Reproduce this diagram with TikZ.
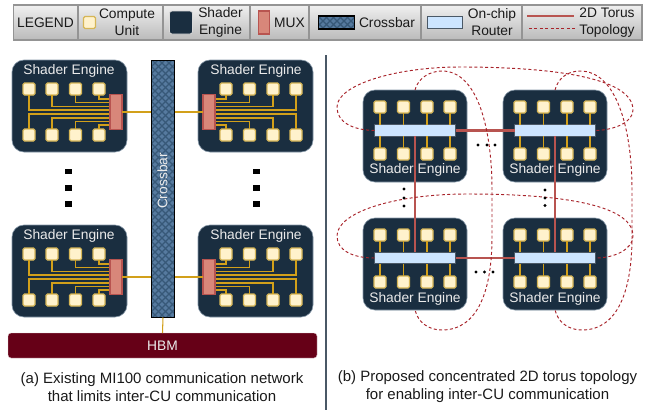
\documentclass[tikz,border=0pt]{standalone}
\usepackage{fontspec}
\setmainfont{Liberation Sans}
\definecolor{sebg}{HTML}{1A2E40}
\definecolor{sedge}{HTML}{8496A6}
\definecolor{cufill}{HTML}{FFF2CC}
\definecolor{cuedge}{HTML}{D6B656}
\definecolor{muxfill}{HTML}{D8877A}
\definecolor{muxedge}{HTML}{B85450}
\definecolor{wirec}{HTML}{D2A01A}
\definecolor{rtfill}{HTML}{CCE5FF}
\definecolor{rtedge}{HTML}{4A5866}
\definecolor{hbmc}{HTML}{660017}
\definecolor{torusc}{HTML}{B85450}
\definecolor{dashc}{HTML}{A8232A}
\definecolor{xbfill}{HTML}{567A9F}
\definecolor{xbhatch}{HTML}{375878}
\definecolor{txt}{HTML}{1A1A1A}
\newcommand{\fsz}{\fontsize{13.8}{15}\selectfont}
\newcommand{\capsz}{\fontsize{15}{18}\selectfont}
\tikzset{
  base/.style={inner sep=0pt,outer sep=0pt},
  engine/.style={base,draw=sedge,line width=0.6pt,fill=sebg,rounded corners=12pt,minimum width=#1,minimum height=92pt},
  cu/.style={base,draw=cuedge,line width=1.2pt,fill=cufill,rounded corners=1.5pt,minimum width=12pt,minimum height=12pt},
  muxbox/.style={base,draw=muxedge,line width=1.1pt,fill=muxfill,minimum width=12pt,minimum height=35pt},
  router/.style={base,draw=rtedge,line width=1pt,fill=rtfill,minimum width=81pt,minimum height=11.5pt},
  wire/.style={draw=wirec,line width=1.05pt},
  torus/.style={draw=torusc,line width=2.2pt},
  dashlink/.style={draw=dashc,line width=0.95pt,dash pattern=on 3pt off 2.4pt},
  setext/.style={base,text=white!92!black,font=\fsz},
  lab/.style={base,text=txt,font=\fsz,align=center},
  captext/.style={base,text=txt,font=\capsz,align=center},
  legbox/.style={base,draw=black!42,line width=1.1pt,top color=black!6,bottom color=black!27,minimum height=35pt},
  dotsq/.style={base,fill=black,minimum width=6.5pt,minimum height=5.5pt},
  dotrd/.style={base,circle,fill=black,minimum size=3.4pt},
  xbar/.style={base,fill=xbfill,minimum width=23.5pt}
}
\newcommand{\hatchbox}[1]{%
  \begin{scope}
    \clip (#1.north west) rectangle (#1.south east);
    \foreach \d in {-300,-293,...,800}{
      \draw[xbhatch,line width=1.3pt] (\d,0) -- ++(400,400);
      \draw[xbhatch,line width=1.3pt] (\d,0) -- ++(-400,400);
    }
  \end{scope}
  \draw[black,line width=1.2pt] (#1.north west) rectangle (#1.south east);}
% mux-type engine: name, cx, cy, dir
\newcommand{\muxengine}[4]{%
  \node[engine=115pt] (#1) at (#2,#3) {};
  \node[setext] (#1-t) at (#2+#4*-0.5,#3-35) {Shader Engine};
  \begin{scope}[shift={(#2,#3)},xscale=#4]
    \foreach \i/\x in {1/-40.5,2/-17.5,3/6,4/29.5}{
      \node[cu] (#1-a\i) at (\x,-17) {};
      \node[cu] (#1-b\i) at (\x,29) {};
    }
    \foreach \i/\y in {1/4,2/0.5,3/-3.5,4/-7}{\coordinate (#1-wa\i) at (40.5,\y);}
    \foreach \i/\y in {1/8,2/12,3/15.5,4/19}{\coordinate (#1-wb\i) at (40.5,\y);}
    \coordinate (#1-o) at (52.5,6);
    \foreach \i in {1,2,3,4}{
      \draw[wire] (#1-a\i.south) |- (#1-wa\i);
      \draw[wire] (#1-b\i.north) |- (#1-wb\i);
    }
    \node[muxbox] (#1-m) at (46.5,6) {};
  \end{scope}}
% router-type engine: name, cx, cy, router dy, text dy
\newcommand{\rtengine}[5]{%
  \node[engine=104pt] (#1) at (#2,#3) {};
  \node[setext] (#1-t) at (#2,#3+#5) {Shader Engine};
  \node[router] (#1-r) at (#2,#3+#4) {};
  \foreach \i/\x in {1/-35,2/-11.5,3/12,4/35}{
    \node[cu] (#1-a\i) at (#2+\x,#3-29) {};
    \node[cu] (#1-b\i) at (#2+\x,#3+18) {};
    \draw[wire] (#1-a\i.south) -- (#1-a\i.south |- #1-r.north);
    \draw[wire] (#1-b\i.north) -- (#1-b\i.north |- #1-r.south);
  }}
\begin{document}
\begin{tikzpicture}[x=1pt,y=-1pt]
\useasboundingbox (0,0) rectangle (651,410);
% legend
\node[legbox,minimum width=64.5pt] (l0) at (46,22.5) {};
\node[legbox,minimum width=85pt] (l1) at (120.5,22.5) {};
\node[legbox,minimum width=87pt] (l2) at (206.5,22.5) {};
\node[legbox,minimum width=59pt] (l3) at (279.5,22.5) {};
\node[legbox,minimum width=112pt] (l4) at (365,22.5) {};
\node[legbox,minimum width=101pt] (l5) at (471.5,22.5) {};
\node[legbox,minimum width=120pt] (l6) at (582,22.5) {};
\node[lab] (lt0) at (45.5,22.5) {LEGEND};
\node[cu] (ls1) at (89.5,22.5) {};
\node[lab] (lt1) at (127,22.5) {Compute\\[2pt]Unit};
\node[base,draw=white!85!black,line width=0.8pt,fill=sebg,rounded corners=2.5pt,minimum width=23pt,minimum height=23pt] (ls2) at (181,22.5) {};
\node[lab] (lt2) at (220.5,22.5) {Shader\\[2pt]Engine};
\node[muxbox,minimum height=23pt,minimum width=11.5pt] (ls3) at (264,22.5) {};
\node[lab] (lt3) at (289.5,22.5) {MUX};
\node[xbar,minimum height=13pt,minimum width=36pt] (ls4) at (336.5,22.5) {};
\hatchbox{ls4}
\node[lab] (lt4) at (387,22.5) {Crossbar};
\node[router,minimum width=35pt] (ls5) at (444.5,22.5) {};
\node[lab] (lt5) at (492,22.5) {On-chip\\[2pt]Router};
\coordinate (ls6a) at (527,16);
\coordinate (ls6b) at (574,16);
\coordinate (ls7a) at (529,28.5);
\coordinate (ls7b) at (575,28.5);
\draw[torus] (ls6a) -- (ls6b);
\draw[dashlink] (ls7a) -- (ls7b);
\node[lab] (lt6) at (607,22.5) {2D Torus\\[2pt]Topology};
% (a) panel
\node[xbar,minimum height=257pt] (cb) at (163,189) {};
\hatchbox{cb}
\node[base,rotate=90,text=white!92!black,font=\fsz] (cbt) at (162.5,181) {Crossbar};
\node[base,draw=white!80!hbmc,line width=0.4pt,fill=hbmc,rounded corners=3pt,minimum width=309pt,minimum height=25pt,text=white!92!black,font=\fsz] (hbm) at (162.5,345.5) {HBM};
\muxengine{tl}{69.5}{106}{1}
\muxengine{tr}{255.5}{106}{-1}
\muxengine{bl}{69.5}{271}{1}
\muxengine{br}{255.5}{271}{-1}
\draw[wire] (tl-o) -- (tl-o -| cb.west);
\draw[wire] (tr-o) -- (tr-o -| cb.east);
\draw[wire] (bl-o) -- (bl-o -| cb.west);
\draw[wire] (br-o) -- (br-o -| cb.east);
\draw[wire] (cb.south) -- (hbm.north);
\foreach \n/\x in {a/68.5,b/256.5}\foreach \k/\y in {1/171.5,2/188,3/204}{\node[dotsq] (d\n\k) at (\x,\y) {};}
\node[captext] (capa) at (162,387) {(a) Existing MI100 communication network\\that limits inter-CU communication};
% divider
\coordinate (va) at (326,55);
\coordinate (vb) at (326,410);
\draw[rtedge,line width=1.2pt] (va) -- (vb);
% (b) panel
\rtengine{p}{415}{136}{-5.5}{34}
\rtengine{q}{555}{136}{-5.5}{34}
\rtengine{r}{415}{264}{-6}{35}
\rtengine{s}{555}{264}{-6}{35}
\draw[torus] (p-r.east) -- (q-r.west);
\draw[torus] (r-r.east) -- (s-r.west);
\draw[torus] (p-r.south) -- (r-r.north);
\draw[torus] (q-r.south) -- (s-r.north);
\draw[dashlink] (p-r.west) .. controls (352,130) and (337,122) .. (337,107) .. controls (337,85) and (395,67) .. (460,67) .. controls (545,67) and (633,76) .. (633,110) .. controls (633,122) and (615,130) .. (q-r.east);
\draw[dashlink] (r-r.west) .. controls (352,258) and (337,250) .. (337,236) .. controls (337,212) and (395,194) .. (468,194) .. controls (553,194) and (633,203) .. (633,236) .. controls (633,249) and (615,258) .. (s-r.east);
\draw[dashlink] (p.north) .. controls (418,78) and (430,71) .. (442,71) .. controls (478,71) and (492,130) .. (492,190) -- (492,237) .. controls (492,290) and (478,330) .. (442,330) .. controls (428,330) and (418,322) .. (r.south);
\draw[dashlink] (q.north) .. controls (558,78) and (568,71) .. (580,71) .. controls (617,71) and (632,130) .. (632,190) -- (632,237) .. controls (632,290) and (618,330) .. (582,330) .. controls (568,330) and (558,322) .. (s.south);
\foreach \k/\x in {1/478,2/487,3/495}{\node[dotrd] (h\k) at (\x,145) {};}
\foreach \k/\x in {1/476,2/484.5,3/493}{\node[dotrd] (i\k) at (\x,272) {};}
\foreach \k/\y in {1/189,2/198,3/206}{\node[dotrd] (j\k) at (404,\y) {};}
\foreach \k/\y in {1/190,2/198,3/205.5}{\node[dotrd] (k\k) at (545,\y) {};}
\node[captext] (capb) at (487.5,387) {(b) Proposed concentrated 2D torus topology\\for enabling inter-CU communication};
\end{tikzpicture}
\end{document}
